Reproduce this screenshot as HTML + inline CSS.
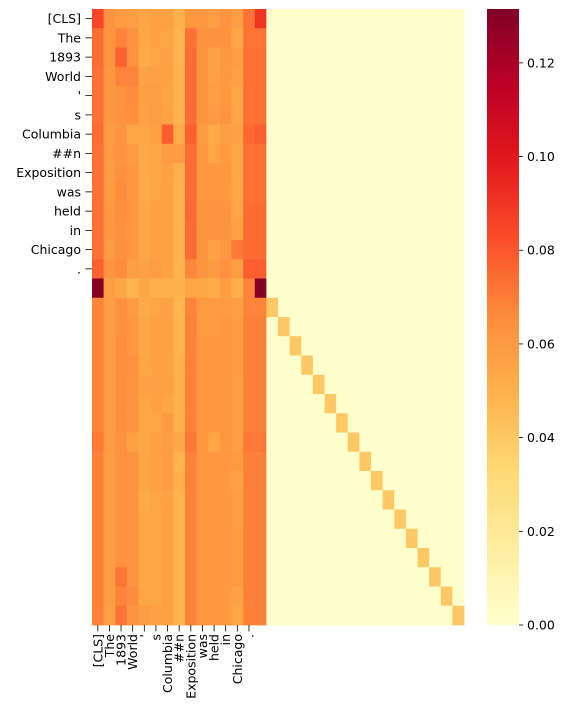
<!DOCTYPE html>
<html><head><meta charset="utf-8"><style>
body{margin:0;background:#fff;width:568px;height:717px;overflow:hidden}
svg{display:block;font-family:"DejaVu Sans","Liberation Sans",sans-serif}
</style></head><body>
<svg id="chart" width="568" height="717" viewBox="0 0 568 717" xmlns="http://www.w3.org/2000/svg">
<g id="cells"></g>
<g id="rowlabels"></g>
<g id="collabels"></g>
<defs><linearGradient id="cbg" x1="0" y1="1" x2="0" y2="0"></linearGradient></defs>
<g id="cbar"></g>
</svg>
<script>
const tokens = ["[CLS]","The","1893","World","'","s","Columbia","##n","Exposition","was","held","in","Chicago","."];
const upperRows = [
[0.085,0.063,0.060,0.058,0.055,0.056,0.057,0.050,0.061,0.061,0.058,0.063,0.058,0.072,0.090],
[0.074,0.062,0.068,0.063,0.054,0.056,0.055,0.049,0.073,0.063,0.063,0.063,0.055,0.072,0.072],
[0.074,0.062,0.077,0.064,0.053,0.055,0.056,0.048,0.074,0.062,0.056,0.061,0.058,0.073,0.073],
[0.073,0.061,0.068,0.068,0.056,0.057,0.056,0.049,0.074,0.062,0.057,0.061,0.057,0.073,0.073],
[0.073,0.061,0.063,0.066,0.058,0.058,0.055,0.049,0.074,0.062,0.058,0.061,0.054,0.073,0.073],
[0.073,0.061,0.063,0.065,0.056,0.058,0.056,0.049,0.074,0.062,0.060,0.062,0.055,0.073,0.073],
[0.074,0.060,0.062,0.055,0.055,0.057,0.078,0.052,0.078,0.059,0.053,0.058,0.056,0.075,0.078],
[0.073,0.060,0.062,0.060,0.053,0.054,0.060,0.060,0.074,0.061,0.055,0.060,0.054,0.073,0.073],
[0.073,0.060,0.064,0.061,0.053,0.054,0.057,0.050,0.074,0.061,0.061,0.061,0.054,0.073,0.073],
[0.073,0.060,0.066,0.061,0.053,0.055,0.056,0.049,0.074,0.061,0.061,0.061,0.055,0.073,0.073],
[0.073,0.061,0.065,0.061,0.054,0.056,0.056,0.049,0.075,0.062,0.062,0.062,0.055,0.074,0.074],
[0.073,0.061,0.064,0.061,0.054,0.056,0.056,0.049,0.074,0.062,0.062,0.062,0.057,0.074,0.074],
[0.073,0.060,0.064,0.061,0.054,0.056,0.056,0.049,0.074,0.062,0.057,0.061,0.071,0.074,0.074],
[0.077,0.062,0.066,0.058,0.056,0.058,0.056,0.049,0.067,0.062,0.060,0.064,0.058,0.078,0.078],
[0.130,0.058,0.054,0.048,0.054,0.050,0.050,0.050,0.055,0.054,0.052,0.058,0.051,0.068,0.130]
];
const lowerRows = [
[0.068,0.058,0.064,0.060,0.053,0.055,0.056,0.048,0.068,0.060,0.060,0.060,0.058,0.068,0.068],
[0.068,0.058,0.064,0.061,0.054,0.056,0.056,0.049,0.069,0.060,0.060,0.061,0.059,0.069,0.069],
[0.068,0.058,0.065,0.061,0.054,0.056,0.056,0.049,0.069,0.061,0.061,0.061,0.059,0.069,0.069],
[0.068,0.058,0.065,0.064,0.055,0.056,0.056,0.050,0.069,0.061,0.061,0.061,0.059,0.069,0.069],
[0.068,0.058,0.065,0.062,0.057,0.056,0.057,0.050,0.069,0.061,0.061,0.061,0.058,0.069,0.069],
[0.068,0.058,0.065,0.062,0.055,0.057,0.055,0.050,0.069,0.061,0.061,0.061,0.058,0.069,0.069],
[0.068,0.058,0.065,0.062,0.055,0.055,0.060,0.050,0.069,0.061,0.061,0.061,0.058,0.069,0.069],
[0.071,0.060,0.063,0.057,0.054,0.056,0.058,0.054,0.071,0.061,0.054,0.061,0.058,0.071,0.071],
[0.069,0.059,0.064,0.062,0.055,0.056,0.058,0.049,0.069,0.061,0.061,0.061,0.060,0.069,0.069],
[0.069,0.059,0.064,0.062,0.055,0.056,0.059,0.051,0.069,0.061,0.061,0.061,0.056,0.069,0.069],
[0.069,0.059,0.064,0.062,0.053,0.055,0.056,0.049,0.069,0.061,0.061,0.061,0.058,0.069,0.069],
[0.069,0.059,0.064,0.062,0.054,0.055,0.057,0.049,0.069,0.061,0.061,0.061,0.058,0.069,0.069],
[0.069,0.059,0.064,0.062,0.054,0.055,0.057,0.049,0.069,0.061,0.061,0.061,0.060,0.069,0.069],
[0.069,0.059,0.064,0.062,0.054,0.055,0.057,0.049,0.069,0.061,0.061,0.061,0.060,0.069,0.069],
[0.069,0.059,0.072,0.062,0.054,0.055,0.057,0.049,0.069,0.061,0.061,0.061,0.060,0.069,0.069],
[0.069,0.059,0.068,0.066,0.055,0.055,0.057,0.049,0.069,0.061,0.061,0.061,0.056,0.069,0.069],
[0.069,0.057,0.072,0.062,0.059,0.056,0.057,0.049,0.069,0.061,0.061,0.061,0.055,0.069,0.069]
];
const diagValues = [0.040,0.040,0.040,0.040,0.040,0.040,0.040,0.040,0.040,0.040,0.040,0.040,0.040,0.040,0.040,0.040,0.040];
const cbTicks = [0.00,0.02,0.04,0.06,0.08,0.10,0.12];
const vmax = 0.1315;
const N = 32, X0 = 92, Y0 = 9, X1 = 464, Y1 = 625;
const cw = (X1-X0)/N, ch = (Y1-Y0)/N;
const stops = ["#ffffcc","#ffeda0","#fed976","#feb24c","#fd8d3c","#fc4e2a","#e31a1c","#bd0026","#800026"];
function hex(h){return [1,3,5].map(i=>parseInt(h.substr(i,2),16));}
function color(v){
  let t = Math.max(0,Math.min(1,v/vmax))*(stops.length-1);
  let i = Math.min(Math.floor(t), stops.length-2), f = t-i;
  const a=hex(stops[i]), b=hex(stops[i+1]);
  return "rgb("+a.map((c,k)=>Math.round(c+(b[k]-c)*f)).join(",")+")";
}
function xs(c){return X0+c*cw;}
function ys(r){return Y0+r*ch;}
const NS="http://www.w3.org/2000/svg";
function mk(tag,attrs,parent){const e=document.createElementNS(NS,tag);for(const k in attrs)e.setAttribute(k,attrs[k]);parent.appendChild(e);return e;}
const cells=document.getElementById('cells');
const matrix=[];
for(let r=0;r<N;r++){
  const row=new Array(N).fill(0);
  const src = r<upperRows.length ? upperRows[r] : lowerRows[r-upperRows.length];
  for(let c=0;c<src.length;c++) row[c]=src[c];
  if(r>=upperRows.length){ row[r]=diagValues[r-upperRows.length]; }
  matrix.push(row);
}
for(let r=0;r<N;r++)for(let c=0;c<N;c++){
  const e=mk('rect',{x:xs(c).toFixed(2),y:ys(r).toFixed(2),width:(cw+0.4).toFixed(2),height:(ch+0.4).toFixed(2),fill:color(matrix[r][c])},cells);
  
  
}
const rl=document.getElementById('rowlabels'), cl=document.getElementById('collabels');
tokens.forEach((t,i)=>{
  const y=ys(i+0.5);
  const tk=mk('line',{x1:85.5,x2:92,y1:y,y2:y,stroke:'#000','stroke-width':0.8},rl);
  
  
  const tx=mk('text',{x:81,y:y+4.5,'text-anchor':'end','font-size':12.5,fill:'#000'},rl);
  tx.textContent=t;
  
  
  const x=xs(i+0.5);
  const tk2=mk('line',{x1:x,x2:x,y1:625,y2:631.5,stroke:'#000','stroke-width':0.8},cl);
  
  
  const tx2=mk('text',{x:0,y:0,'text-anchor':'end','font-size':12.5,fill:'#000',transform:`translate(${x+4.5},634) rotate(-90)`},cl);
  tx2.textContent=t;
  
  
});
const g=document.getElementById('cbg');
stops.forEach((s,i)=>mk('stop',{offset:(i/(stops.length-1)),'stop-color':s},g));
const cb=document.getElementById('cbar');
const CX=487,CW=32;
mk('rect',{x:CX,y:Y0,width:CW,height:Y1-Y0,fill:'url(#cbg)'},cb);
cbTicks.forEach(v=>{
  const y=Y1-(v/vmax)*(Y1-Y0);
  const l=mk('line',{x1:CX+CW,x2:CX+CW+4,y1:y,y2:y,stroke:'#000','stroke-width':0.8},cb);
  
  
  const t=mk('text',{x:CX+CW+8,y:y+4.5,'font-size':12.5,fill:'#000'},cb);
  t.textContent=v.toFixed(2);
  
  
});
</script>
</body></html>
